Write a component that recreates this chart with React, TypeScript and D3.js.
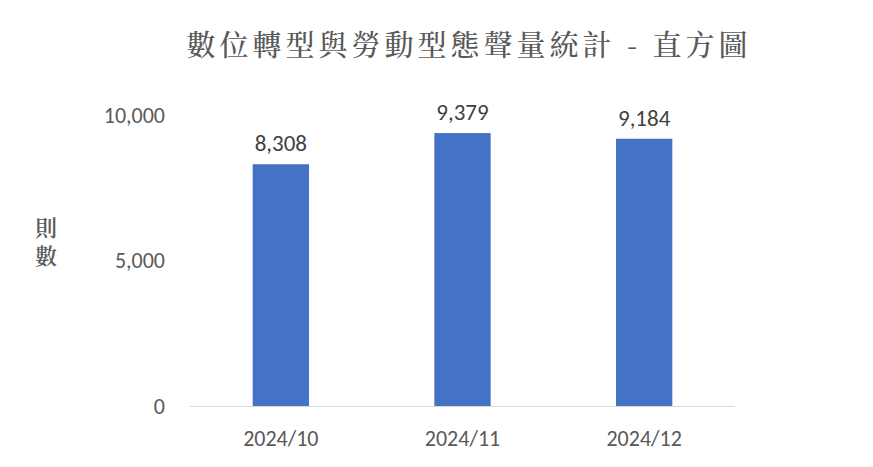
import React from "react";
import * as d3 from "d3";

const categories = ["2024/10", "2024/11", "2024/12"];
const values = [8308, 9379, 9184];
const yTicks = [0, 5000, 10000];

export default function App() {
  const W = 873, H = 467;
  const x = d3.scaleBand<string>().domain(categories).range([190, 735]).paddingInner(0.69).paddingOuter(0.345);
  const y = d3.scaleLinear().domain([0, 10000]).range([406, 115]);
  const fmt = d3.format(",");
  const numFont = "Carlito, Lato, 'Liberation Sans', sans-serif";
  const cjk = "'Noto Serif CJK TC', 'Noto Sans CJK TC', serif";
  return (
    <svg width={W} height={H} style={{ position: "absolute", left: 0, top: 0, background: "#fff" }}>
      <text x={469} y={56} textAnchor="middle" fontFamily={cjk} fontSize={29} fontWeight={500} fill="#595959" letterSpacing={4}>
        數位轉型與勞動型態聲量統計 - 直方圖
      </text>
      <text x={46} y={236} textAnchor="middle" fontFamily={cjk} fontSize={22} fontWeight={600} fill="#595959">則</text>
      <text x={46} y={264} textAnchor="middle" fontFamily={cjk} fontSize={22} fontWeight={600} fill="#595959">數</text>
      {yTicks.map((t) => (
        <text key={t} x={165} y={y(t)} dy="0.35em" textAnchor="end" fontFamily={numFont} fontSize={22} fill="#595959">
          {fmt(t)}
        </text>
      ))}
      {categories.map((c, i) => (
        <g key={c}>
          <rect x={x(c)} y={y(values[i])} width={x.bandwidth()} height={y(0) - y(values[i])} fill="#4472C4" />
          <text x={x(c)! + x.bandwidth() / 2} y={y(values[i]) - 13} textAnchor="middle" fontFamily={numFont} fontSize={23} fill="#404040">
            {fmt(values[i])}
          </text>
          <text x={x(c)! + x.bandwidth() / 2} y={438} dy="0.35em" textAnchor="middle" fontFamily={numFont} fontSize={22} fill="#595959">
            {c}
          </text>
        </g>
      ))}
      <line x1={190} x2={735} y1={406.5} y2={406.5} stroke="#D9D9D9" strokeWidth={1} />
    </svg>
  );
}
